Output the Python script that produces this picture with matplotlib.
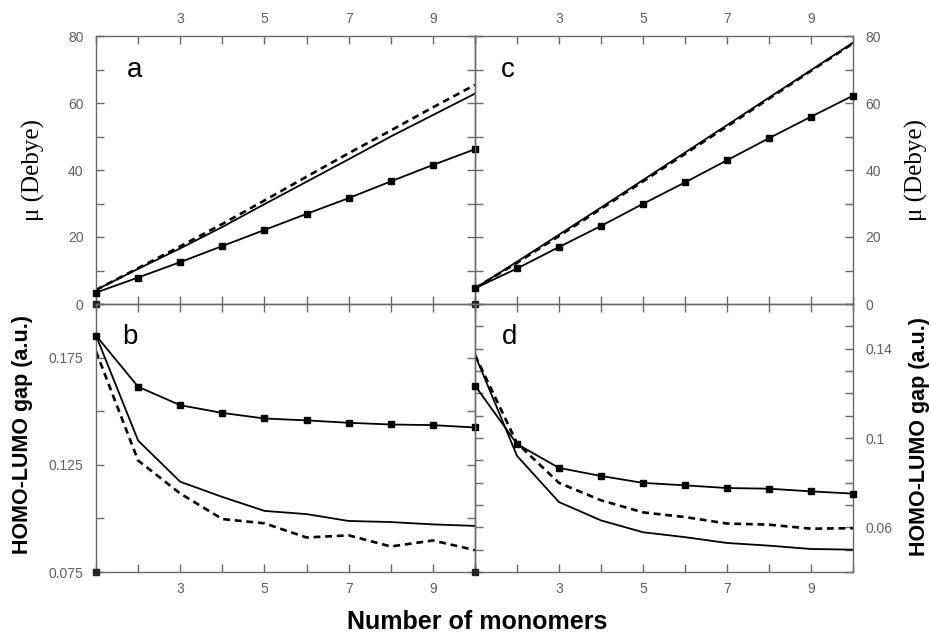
import matplotlib
matplotlib.use("Agg")
import matplotlib.pyplot as plt
from matplotlib.ticker import MultipleLocator, FixedLocator, FuncFormatter

# ---------------- data ----------------
monomers = [1, 2, 3, 4, 5, 6, 7, 8, 9, 10]
x_labels = [3, 5, 7, 9]

a_squares = [3.4, 7.9, 12.5, 17.3, 22.1, 26.9, 31.6, 36.6, 41.5, 46.2]
a_solid = [4.2, 10.5, 16.6, 23.0, 29.8, 36.5, 43.2, 50.0, 56.4, 62.8]
a_dashed = [4.2, 10.7, 17.2, 23.9, 30.9, 38.0, 45.0, 51.8, 58.7, 65.4]

c_squares = [4.7, 10.6, 17.0, 23.3, 29.9, 36.3, 42.9, 49.5, 55.9, 62.2]
c_solid = [4.7, 12.6, 20.7, 28.8, 37.0, 45.2, 53.4, 61.6, 69.8, 78.0]
c_dashed = [4.7, 12.3, 20.3, 28.4, 36.6, 44.8, 53.0, 61.3, 69.6, 77.8]

b_squares = [0.1853, 0.1614, 0.1528, 0.1492, 0.1466, 0.1457, 0.1446, 0.1438, 0.1435, 0.1424]
b_solid = [0.1853, 0.1363, 0.1171, 0.1100, 0.1035, 0.1020, 0.0988, 0.0983, 0.0972, 0.0965]
b_dashed = [0.1779, 0.1270, 0.1116, 0.0997, 0.0977, 0.0911, 0.0921, 0.0869, 0.0897, 0.0852]

d_squares = [0.1235, 0.0973, 0.0866, 0.0830, 0.0799, 0.0788, 0.0776, 0.0773, 0.0761, 0.0751]
d_solid = [0.1372, 0.0920, 0.0713, 0.0631, 0.0578, 0.0556, 0.0530, 0.0518, 0.0503, 0.0500]
d_dashed = [0.1372, 0.0977, 0.0799, 0.0721, 0.0667, 0.0646, 0.0617, 0.0612, 0.0594, 0.0596]

mu_lim = (0, 80)
b_lim = (0.075, 0.2)
d_lim = (0.04, 0.16)

# ---------------- figure ----------------
W, H = 931, 634
fig = plt.figure(figsize=(W / 100, H / 100), dpi=100)
plt.rcParams['font.family'] = ['Liberation Sans', 'DejaVu Sans']

def frac(l, t, r, b):
    return [l / W, 1 - b / H, (r - l) / W, (b - t) / H]

ax_a = fig.add_axes(frac(96, 36, 475, 304))
ax_c = fig.add_axes(frac(475, 36, 853, 304))
ax_b = fig.add_axes(frac(96, 304, 475, 572))
ax_d = fig.add_axes(frac(475, 304, 853, 572))

spine_col = '#6a6a6a'
tick_col = '#6a6a6a'
label_col = '#606060'

def style(ax, ylim, ymaj, ylab_every, top_panel, left_panel, fmt):
    ax.set_xlim(monomers[0], monomers[-1])
    ax.set_ylim(*ylim)
    for s in ax.spines.values():
        s.set_color(spine_col)
        s.set_linewidth(1.0)
    ax.xaxis.set_major_locator(FixedLocator(x_labels))
    ax.xaxis.set_minor_locator(FixedLocator(monomers))
    ax.yaxis.set_major_locator(MultipleLocator(ymaj))
    def yfmt(v, pos):
        k = round((v - ylim[0]) / ymaj)
        return fmt(v) if k % ylab_every == 0 else ''
    ax.yaxis.set_major_formatter(FuncFormatter(yfmt))
    ax.tick_params(which='both', direction='in', top=True, bottom=True,
                   left=True, right=True, color=tick_col, width=1.0,
                   labelsize=10, labelcolor=label_col, length=6)
    ax.tick_params(axis='x', pad=7)
    ax.tick_params(axis='y', pad=9)
    ax.tick_params(axis='x', labeltop=top_panel, labelbottom=not top_panel)
    ax.tick_params(axis='y', labelleft=left_panel, labelright=not left_panel)
    ax.patch.set_alpha(0)

style(ax_a, mu_lim, 10, 2, True, True, lambda v: '%d' % round(v))
style(ax_c, mu_lim, 10, 2, True, False, lambda v: '%d' % round(v))
style(ax_b, b_lim, 0.025, 2, False, True, lambda v: '%.3f' % v)
style(ax_d, d_lim, 0.01, 4, False, False, lambda v: '%g' % round(v, 3))

# d labels at 0.06, 0.1, 0.14
def dfmt(v, pos):
    r = round(v, 3)
    return '%g' % r if any(abs(r - t) < 1e-6 for t in (0.06, 0.1, 0.14)) else ''
ax_d.yaxis.set_major_formatter(FuncFormatter(dfmt))

def draw(ax, sq, solid, dashed):
    ax.plot(monomers, solid, color='black', lw=1.3, solid_joinstyle='miter')
    ax.plot(monomers, dashed, color='black', lw=1.9, ls=(0, (2.6, 1.8)))
    ax.plot(monomers, sq, color='black', lw=1.3, marker='s', ms=4.5,
            clip_on=False, zorder=5)
    # small square marker at the axes origin
    ax.plot([ax.get_xlim()[0]], [ax.get_ylim()[0]], marker='s', ms=5,
            color='#222222', clip_on=False, zorder=6)

draw(ax_a, a_squares, a_solid, a_dashed)
draw(ax_c, c_squares, c_solid, c_dashed)
draw(ax_b, b_squares, b_solid, b_dashed)
draw(ax_d, d_squares, d_solid, d_dashed)

# panel letters
for ax, letter, px, py in [(ax_a, 'a', 135, 70), (ax_c, 'c', 508, 70),
                           (ax_b, 'b', 130, 337), (ax_d, 'd', 510, 337)]:
    fig.text(px / W, 1 - py / H, letter, fontsize=20, ha='center', va='center',
             family=['Liberation Sans', 'DejaVu Sans'])

# axis titles
serif = ['Liberation Serif', 'DejaVu Serif']
fig.text(33 / W, 1 - 170 / H, 'μ (Debye)', rotation=90, fontsize=18,
         ha='center', va='center', family=serif)
fig.text(916 / W, 1 - 170 / H, 'μ (Debye)', rotation=90, fontsize=18,
         ha='center', va='center', family=serif)
fig.text(23 / W, 1 - 434 / H, 'HOMO-LUMO gap (a.u.)', rotation=90,
         fontsize=15.5, fontweight='bold', ha='center', va='center')
fig.text(919 / W, 1 - 437 / H, 'HOMO-LUMO gap (a.u.)', rotation=90,
         fontsize=15.5, fontweight='bold', ha='center', va='center')
fig.text(477 / W, 1 - 622 / H, 'Number of monomers', fontsize=18,
         fontweight='bold', ha='center', va='center')

fig.savefig('out.png', dpi=100)
